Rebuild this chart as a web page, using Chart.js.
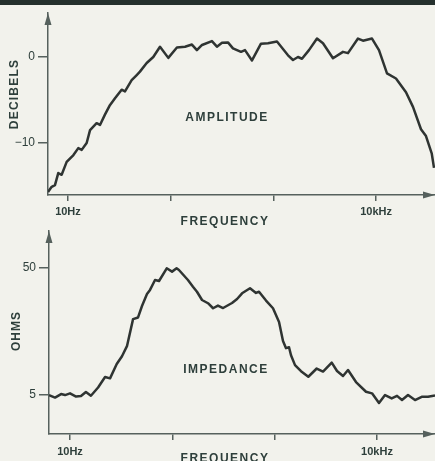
<!DOCTYPE html>
<html>
<head>
<meta charset="utf-8">
<script src="https://cdn.jsdelivr.net/npm/chart.js@4"></script>
<style>
  html, body { margin: 0; padding: 0; background: #f2f2ec; }
  #page { position: relative; width: 435px; height: 461px; overflow: hidden; }
  #band { position: absolute; left: 0; top: 0; width: 435px; height: 5px; background: #25302d; }
  .box { position: absolute; left: 0; width: 435px; }
</style>
</head>
<body>
<div id="page">
  <div id="band"></div>
  <div class="box" style="top:0;height:230px"><canvas id="ampChart" width="435" height="230"></canvas></div>
  <div class="box" style="top:230px;height:231px"><canvas id="impChart" width="435" height="231"></canvas></div>
</div>
<script>
// amplitude response (Hz, dB)
const ampFreq = [6.39, 6.94, 7.47, 8.04, 8.68, 9.71, 11.3, 12.6, 13.6, 15.2, 16.4, 19.0, 20.5, 22.9, 25.6, 28.7, 33.3, 35.9, 41.7, 46.7, 50.2, 58.4, 67.7, 78.7, 94.8, 115, 138, 161, 180, 202, 252, 282, 316, 361, 404, 484, 529, 619, 757, 886, 1084, 1388, 1552, 1736, 1899, 2221, 2658, 3041, 3805, 4761, 5325, 6663, 7455, 9124, 10670, 12770, 15620, 19550, 22870, 27360, 30610, 34790, 36630];
const ampDb = [-15.7, -15.1, -14.9, -13.5, -13.7, -12.2, -11.4, -10.6, -10.8, -10.0, -8.5, -7.7, -7.9, -6.7, -5.6, -4.8, -3.8, -4.0, -2.7, -2.1, -1.7, -0.7, 0.0, 1.2, -0.1, 1.1, 1.2, 1.45, 0.8, 1.4, 1.85, 1.2, 1.65, 1.7, 1.0, 0.6, 0.8, -0.4, 1.55, 1.6, 1.8, 0.2, -0.35, 0.0, -0.2, 0.8, 2.15, 1.6, -0.15, 0.6, 0.45, 2.15, 1.9, 2.15, 0.8, -1.9, -2.5, -4.1, -5.8, -8.4, -9.2, -11.2, -12.9];

// impedance (Hz, ohms)
const impFreq = [6.23, 7.14, 8.17, 8.94, 10, 11.45, 12.8, 14.3, 16.0, 18.8, 22.0, 24.6, 28.6, 32.2, 36.1, 41.3, 46.2, 50.5, 56.5, 60.5, 67.7, 74.1, 88.1, 99.3, 110, 116, 142, 159, 174, 195, 223, 250, 279, 313, 383, 429, 480, 574, 657, 703, 823, 963, 1103, 1206, 1291, 1381, 1444, 1580, 1809, 2132, 2575, 2968, 3610, 4067, 4655, 5208, 6235, 7807, 8939, 10460, 11980, 13920, 15690, 17550, 20090, 23520, 27350, 31510, 36880];
const impOhms = [5.0, 4.78, 5.09, 5.0, 5.16, 4.87, 4.91, 5.28, 4.94, 5.73, 6.93, 6.77, 8.77, 10.1, 12.2, 19.8, 20.4, 25.1, 31.2, 33.6, 40.2, 39.5, 49.7, 46.8, 49.7, 48.2, 40.2, 35.6, 32.5, 28.0, 26.4, 24.1, 25.3, 24.2, 26.5, 28.5, 31.6, 34.6, 31.8, 32.5, 27.7, 24.1, 18.8, 13.3, 11.7, 11.9, 10.3, 8.6, 7.7, 6.97, 8.09, 7.66, 9.01, 7.73, 7.06, 7.87, 6.33, 5.31, 5.16, 4.33, 5.0, 4.71, 4.93, 4.57, 5.0, 4.57, 4.85, 4.85, 4.96];

// tick values and labels
const freqTicks = [10, 100, 1000, 10000];
const freqTickLabels = ['10Hz', '', '', '10kHz'];
const dbTicks = [-10, 0];
const ohmTicks = [5, 50];

const ink = '#2e3f3b';
const axisInk = '#56615d';
const traceInk = '#2f3432';

// axis arrowheads and the lettering around the plots
const decor = {
  id: 'decor',
  afterDraw(chart, args, opts) {
    const { ctx } = chart;
    const { left, right, top, bottom } = chart.chartArea;
    ctx.save();
    ctx.fillStyle = axisInk;
    ctx.beginPath();
    ctx.moveTo(left, top);
    ctx.lineTo(left - 3.5, top + 12);
    ctx.lineTo(left + 3.5, top + 12);
    ctx.closePath();
    ctx.fill();
    ctx.beginPath();
    ctx.moveTo(right, bottom);
    ctx.lineTo(right - 12, bottom - 3.5);
    ctx.lineTo(right - 12, bottom + 3.5);
    ctx.closePath();
    ctx.fill();

    ctx.fillStyle = ink;
    ctx.font = 'bold 12px "Liberation Sans"';
    ctx.textAlign = 'center';
    ctx.textBaseline = 'middle';
    opts.words.forEach(w => {
      ctx.save();
      ctx.letterSpacing = w.spacing + 'px';
      ctx.translate(w.x, w.y);
      if (w.vertical) ctx.rotate(-Math.PI / 2);
      ctx.fillText(w.text, 0, 0);
      ctx.restore();
    });
    ctx.restore();
  }
};

const freqAxis = (min, max, height, pad) => ({
  type: 'logarithmic',
  position: 'bottom',
  min: min,
  max: max,
  border: { display: true, color: axisInk, width: 1.5 },
  grid: { display: true, drawOnChartArea: false, drawTicks: true, tickLength: 6, color: axisInk, lineWidth: 1.5 },
  afterBuildTicks: axis => { axis.ticks = freqTicks.map(v => ({ value: v })); },
  afterFit: axis => { axis.height = height; },
  ticks: {
    autoSkip: false,
    maxRotation: 0,
    padding: pad,
    color: ink,
    font: { family: 'Liberation Sans', size: 11, weight: 'bold' },
    callback: (value, i) => freqTickLabels[i]
  }
});

const valueAxis = (type, min, max, tickValues, width) => ({
  type: type,
  position: 'left',
  min: min,
  max: max,
  border: { display: true, color: axisInk, width: 1.5 },
  grid: { display: true, drawOnChartArea: false, drawTicks: true, tickLength: 10, color: axisInk, lineWidth: 1.5 },
  afterBuildTicks: axis => { axis.ticks = tickValues.map(v => ({ value: v })); },
  afterFit: axis => {
    axis.width = width;
    // the labels sit well inside the axis, no room needed above or below
    axis.paddingTop = 0;
    axis.paddingBottom = 0;
  },
  ticks: {
    padding: 3,
    color: ink,
    font: { family: 'Liberation Sans', size: 12 },
    callback: value => String(value).replace('-', '\u2212')
  }
});

const trace = (xs, ys) => ({
  data: xs.map((f, i) => ({ x: f, y: ys[i] })),
  borderColor: traceInk,
  borderWidth: 2.5,
  borderJoinStyle: 'round',
  pointRadius: 0,
  tension: 0,
  fill: false
});

new Chart('ampChart', {
  type: 'line',
  data: { datasets: [trace(ampFreq, ampDb)] },
  plugins: [decor],
  options: {
    responsive: false,
    animation: false,
    layout: { padding: { top: 13, right: 0, left: 0, bottom: 0 } },
    scales: {
      x: freqAxis(6.39, 37460, 35, 4),
      y: valueAxis('linear', -16.05, 5.12, dbTicks, 48)
    },
    plugins: {
      legend: { display: false },
      tooltip: { enabled: false },
      decor: {
        words: [
          { text: 'AMPLITUDE', x: 227, y: 118, spacing: 1.5 },
          { text: 'FREQUENCY', x: 225, y: 222, spacing: 1.5 },
          { text: 'DECIBELS', x: 15, y: 94, spacing: 1.2, vertical: true }
        ]
      }
    }
  }
});

new Chart('impChart', {
  type: 'line',
  data: { datasets: [trace(impFreq, impOhms)] },
  plugins: [decor],
  options: {
    responsive: false,
    animation: false,
    layout: { padding: { top: 1, right: 0, left: 0, bottom: 0 } },
    scales: {
      x: freqAxis(6.23, 36880, 27, 5),
      y: valueAxis('logarithmic', 2.47, 97.7, ohmTicks, 49)
    },
    plugins: {
      legend: { display: false },
      tooltip: { enabled: false },
      decor: {
        words: [
          { text: 'IMPEDANCE', x: 226, y: 140, spacing: 1.5 },
          { text: 'FREQUENCY', x: 225, y: 229, spacing: 1.5 },
          { text: 'OHMS', x: 17, y: 101, spacing: 1, vertical: true }
        ]
      }
    }
  }
});
</script>
</body>
</html>
